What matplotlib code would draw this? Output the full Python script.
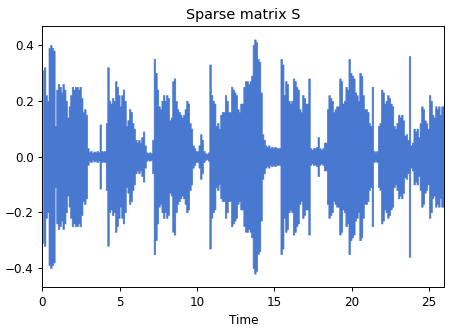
import numpy as np
import matplotlib
matplotlib.use("Agg")
import matplotlib.pyplot as plt

# Envelope amplitude of the waveform, sampled every 0.1 s (t = 0.0 ... 25.9)
step = 0.1
amplitude = [
    0.31, 0.32, 0.22, 0.20, 0.39, 0.40, 0.39, 0.38, 0.11, 0.24,
    0.26, 0.25, 0.23, 0.26, 0.24, 0.20, 0.14, 0.18, 0.22, 0.25,
    0.24, 0.25, 0.25, 0.24, 0.25, 0.21, 0.16, 0.17, 0.15, 0.03,
    0.015, 0.02, 0.012, 0.018, 0.015, 0.02, 0.015, 0.115, 0.02, 0.018,
    0.02, 0.12, 0.32, 0.20, 0.19, 0.21, 0.20, 0.27, 0.25, 0.22,
    0.18, 0.22, 0.24, 0.20, 0.11, 0.13, 0.17, 0.16, 0.12, 0.10,
    0.06, 0.05, 0.06, 0.05, 0.07, 0.09, 0.04, 0.015, 0.012, 0.015,
    0.012, 0.06, 0.35, 0.30, 0.24, 0.18, 0.17, 0.20, 0.22, 0.20,
    0.22, 0.21, 0.13, 0.14, 0.27, 0.28, 0.20, 0.17, 0.16, 0.15,
    0.14, 0.15, 0.17, 0.20, 0.19, 0.12, 0.10, 0.04, 0.03, 0.02,
    0.02, 0.04, 0.08, 0.06, 0.02, 0.012, 0.01, 0.015, 0.33, 0.22,
    0.20, 0.19, 0.11, 0.12, 0.10, 0.15, 0.16, 0.16, 0.22, 0.20,
    0.16, 0.16, 0.25, 0.24, 0.23, 0.22, 0.17, 0.16, 0.19, 0.19,
    0.25, 0.27, 0.27, 0.26, 0.27, 0.29, 0.40, 0.42, 0.41, 0.35,
    0.34, 0.23, 0.08, 0.06, 0.04, 0.035, 0.04, 0.03, 0.035, 0.03,
    0.035, 0.03, 0.03, 0.03, 0.35, 0.33, 0.22, 0.27, 0.26, 0.20,
    0.19, 0.20, 0.28, 0.27, 0.25, 0.24, 0.17, 0.16, 0.22, 0.21,
    0.19, 0.19, 0.28, 0.03, 0.025, 0.03, 0.03, 0.035, 0.07, 0.03,
    0.025, 0.03, 0.05, 0.05, 0.17, 0.22, 0.21, 0.20, 0.16, 0.17,
    0.18, 0.18, 0.28, 0.27, 0.19, 0.20, 0.25, 0.24, 0.35, 0.30,
    0.29, 0.28, 0.23, 0.22, 0.20, 0.30, 0.29, 0.22, 0.17, 0.17,
    0.16, 0.12, 0.11, 0.25, 0.02, 0.015, 0.02, 0.11, 0.12, 0.24,
    0.23, 0.19, 0.20, 0.22, 0.21, 0.19, 0.18, 0.11, 0.10, 0.12,
    0.15, 0.14, 0.15, 0.13, 0.075, 0.08, 0.06, 0.36, 0.04, 0.05,
    0.10, 0.09, 0.10, 0.07, 0.12, 0.18, 0.17, 0.13, 0.12, 0.10,
    0.22, 0.20, 0.15, 0.14, 0.18, 0.17, 0.18, 0.15, 0.18, 0.18,
]
x_ticks = [0, 5, 10, 15, 20, 25]
y_ticks = [-0.4, -0.2, 0.0, 0.2, 0.4]
title = "Sparse matrix S"
xlabel = "Time"

amp = np.array(amplitude)
times = np.arange(len(amp)) * step + step / 2

W, H = 472, 328
DPI = 86.4
fig = plt.figure(figsize=(W / DPI, H / DPI), dpi=DPI)
ax = fig.add_axes([42.3 / W, 1 - 287.3 / H, (444.3 - 42.3) / W, (287.3 - 25.7) / H])
color = "#4878CF"
ax.fill_between(times, -amp, amp, step="mid", color=color, linewidth=0.5, edgecolor=color)
ax.set_xlim(0, 26)
ax.set_ylim(-0.469, 0.469)
ax.set_xticks(x_ticks)
ax.set_yticks(y_ticks)
ax.tick_params(labelsize=10)
ax.set_title(title, fontsize=12)
ax.set_xlabel(xlabel, fontsize=10)
fig.savefig("out.png", dpi=DPI)
